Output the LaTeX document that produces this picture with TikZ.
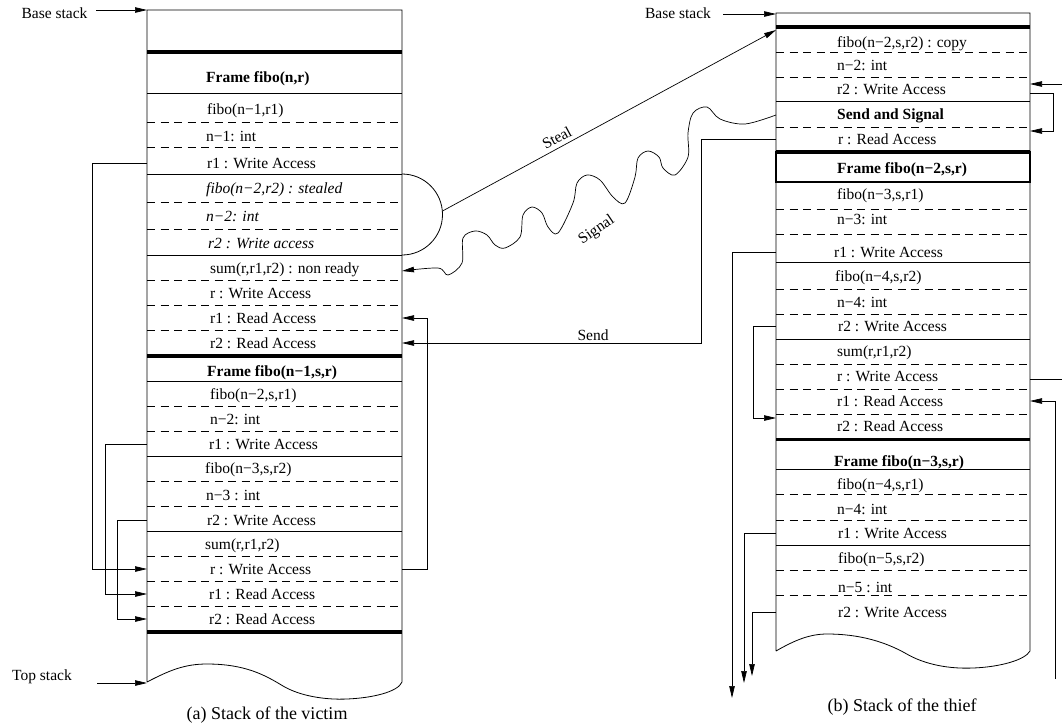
\documentclass[tikz,border=0pt]{standalone}
\usepackage{fontspec}
\setmainfont{Liberation Serif}
\usetikzlibrary{arrows.meta,calc}
\newcommand{\bodyfont}{\fontsize{15.5}{18}\selectfont}
\newcommand{\capfont}{\fontsize{18}{21}\selectfont}
\begin{document}
\begin{tikzpicture}[x=1pt,y=-1pt,
  stk/.style={line width=0.8pt},
  rulethick/.style={line width=3.6pt},
  rulesolid/.style={line width=0.8pt},
  ruledash/.style={line width=0.7pt, dash pattern=on 8pt off 5.5pt},
  cell/.style={anchor=west, inner sep=0pt, text height=10pt, text depth=0pt, font=\bodyfont},
  cellb/.style={cell, font=\bodyfont\bfseries},
  celli/.style={cell, font=\bodyfont\itshape},
  lbl/.style={inner sep=0pt, text height=10pt, text depth=0pt, font=\bodyfont},
  arr/.style={line width=0.7pt, -{Triangle[length=12pt,width=5.5pt]}},
  conn/.style={line width=0.7pt},
]
\useasboundingbox (0,0) rectangle (1062,724);

% ---------- stack edges ----------
\coordinate (aL) at (147,0);
\coordinate (aR) at (402,0);
\coordinate (bL) at (776,0);
\coordinate (bR) at (1030,0);

% ---------- left stack (victim) ----------
\draw[stk] (147,682) -- (147,10) -- (402,10) -- (402,682)
  .. controls (398,692) and (372,698) .. (347,699)
  .. controls (325,700) and (300,696) .. (283,686)
  .. controls (265,675) and (245,664) .. (207,664)
  .. controls (185,664) and (170,670) .. (147,682);
\foreach \y in {52,356,632} \draw[rulethick] (147,\y) -- (402,\y);
\foreach \y in {93,174,255,381,456.5,531} \draw[rulesolid] (147,\y) -- (402,\y);
\foreach \y in {122,147.5,202,229,280.5,305.5,330.5,406,431.5,481.5,506.5,556.5,581.5,606.5}
  \draw[ruledash] (147,\y) -- (402,\y);

\node[cellb] (aF1) at (206,77) {Frame fibo(n,r)};
\node[cell]  (a1)  at (207,109) {fibo(n−1,r1)};
\node[cell]  (a2)  at (206,136) {n−1: int};
\node[cell]  (a3)  at (207,163) {r1 : Write Access};
\node[celli] (a4)  at (206,188) {fibo(n−2,r2) : stealed};
\node[celli] (a5)  at (206,216) {n−2: int};
\node[celli] (a6)  at (208,243) {r2 : Write access};
\node[cell]  (a7)  at (210,268) {sum(r,r1,r2) : non ready};
\node[cell]  (a8)  at (210,293) {r : Write Access};
\node[cell]  (a9)  at (210,318) {r1 : Read Access};
\node[cell]  (a10) at (210,343) {r2 : Read Access};
\node[cellb] (aF2) at (207,371) {Frame fibo(n−1,s,r)};
\node[cell]  (a11) at (210,394) {fibo(n−2,s,r1)};
\node[cell]  (a12) at (210,419) {n−2: int};
\node[cell]  (a13) at (209,444) {r1 : Write Access};
\node[cell]  (a14) at (205,468) {fibo(n−3,s,r2)};
\node[cell]  (a15) at (206,495) {n−3 : int};
\node[cell]  (a16) at (207,520) {r2 : Write Access};
\node[cell]  (a17) at (205,544) {sum(r,r1,r2)};
\node[cell]  (a18) at (210,569) {r : Write Access};
\node[cell]  (a19) at (209,594) {r1 : Read Access};
\node[cell]  (a20) at (209,619) {r2 : Read Access};

% semicircle round the stolen frame
\draw[stk] (402,174) .. controls (424.4,174) and (442.5,192.1) .. (442.5,214.5)
  .. controls (442.5,236.9) and (424.4,255) .. (402,255);
\coordinate (stealfrom) at (442.5,211);

% ---------- right stack (thief) ----------
\draw[stk] (776,651) -- (776,13) -- (1030,13) -- (1030,651)
  .. controls (1025,660) and (1000,667) .. (973,668)
  .. controls (950,669) and (925,665) .. (905,653)
  .. controls (885,642) and (860,634) .. (827,634)
  .. controls (810,634) and (795,640) .. (776,651);
\foreach \y in {27,152,439.5} \draw[rulethick] (776,\y) -- (1030,\y);
\foreach \y in {101.5,182,262,339,469,545.7} \draw[rulesolid] (776,\y) -- (1030,\y);
\foreach \y in {52,77,127,209,234,289,314,364,389,414,494,520.7,570.7,595.7}
  \draw[ruledash] (776,\y) -- (1030,\y);
\draw[line width=1.05pt] (776,152) rectangle (1030,182);

\node[cell]  (b1)  at (837,42)  {fibo(n−2,s,r2) : copy};
\node[cell]  (b2)  at (837,65)  {n−2: int};
\node[cell]  (b3)  at (837,89)  {r2 : Write Access};
\node[cellb] (b4)  at (837,114) {Send and Signal};
\node[cell]  (b5)  at (838,139) {r : Read Access};
\node[cellb] (bF1) at (837,168) {Frame fibo(n−2,s,r)};
\node[cell]  (b6)  at (837,194) {fibo(n−3,s,r1)};
\node[cell]  (b7)  at (837,219) {n−3: int};
\node[cell]  (b8)  at (834,252) {r1 : Write Access};
\node[cell]  (b9)  at (835,276) {fibo(n−4,s,r2)};
\node[cell]  (b10) at (837,302) {n−4: int};
\node[cell]  (b11) at (838,326) {r2 : Write Access};
\node[cell]  (b12) at (837,351) {sum(r,r1,r2)};
\node[cell]  (b13) at (837,376) {r : Write Access};
\node[cell]  (b14) at (837,401) {r1 : Read Access};
\node[cell]  (b15) at (837,426) {r2 : Read Access};
\node[cellb] (bF2) at (834,461) {Frame fibo(n−3,s,r)};
\node[cell]  (b16) at (837,484) {fibo(n−4,s,r1)};
\node[cell]  (b17) at (837,509) {n−4: int};
\node[cell]  (b18) at (838,533) {r1 : Write Access};
\node[cell]  (b19) at (838,558) {fibo(n−5,s,r2)};
\node[cell]  (b20) at (838,587) {n−5 : int};
\node[cell]  (b21) at (838,612) {r2 : Write Access};

% ---------- labels ----------
\node[lbl] (lBaseA) at (54.5,13) {Base stack};
\node[lbl] (lBaseB) at (678,13) {Base stack};
\node[lbl] (lTop) at (42,675) {Top stack};
\node[lbl, rotate=28.5] (lSteal) at (557,138) {Steal};
\node[lbl, rotate=34] (lSignal) at (596,229) {Signal};
\node[lbl] (lSend) at (593,335) {Send};
\node[inner sep=0pt, text height=12pt, text depth=0pt, font=\capfont] (capA) at (267,713) {(a) Stack of the victim};
\node[inner sep=0pt, text height=12pt, text depth=0pt, font=\capfont] (capB) at (902,705) {(b) Stack of the thief};

% ---------- free ends ----------
\coordinate (baseAfrom) at (96,10);   \coordinate (baseAto) at (147,10);
\coordinate (baseBfrom) at (723,14);  \coordinate (baseBto) at (776,14);
\coordinate (topfrom) at (97,683);    \coordinate (topto) at (147,683);
\coordinate (stealto) at (776,30);
\coordinate (sigfrom) at (776,115);
\coordinate (sigto) at (402,271);
\coordinate (b3in) at (1062,84);
\coordinate (wout) at (1062,379);
\coordinate (e1) at (732,698);
\coordinate (e2) at (744,683);
\coordinate (e3) at (752,676);
\coordinate (e4) at (1055,679);

% ---------- connectors ----------
\draw[arr] (baseAfrom) -- (baseAto);
\draw[arr] (baseBfrom) -- (baseBto);
\draw[arr] (topfrom) -- (topto);

\draw[arr] (a3 -| aL) -- ++(-55,0) |- (a18 -| aL);
\draw[arr] (a13 -| aL) -- ++(-42,0) |- (a19 -| aL);
\draw[arr] (a16 -| aL) -- ++(-30,0) |- (a20 -| aL);
\draw[arr] (a18 -| aR) -- ++(25,0) |- (a9 -| aR);

\draw[arr] (stealfrom) -- (stealto);
\draw[arr] (b5 -| bL) -- ++(-75,0) |- (a10 -| aR);
\draw[arr] plot[smooth, tension=0.55] coordinates {(sigfrom) (745,124) (720,119) (707,107)
  (693,113) (688,133) (688,157) (675,175) (663,168) (659,157) (648,151) (638,158) (635,177)
  (625,203) (613,197) (600,180) (587,175) (577,183) (573,203) (558,233) (548,227) (542,213)
  (532,207) (523,215) (520,237) (505,248) (495,245) (487,235) (475,231) (463,238) (462,263)
  (448,275) (438,268) (sigto)};

\draw[arr] (b3in) -- (b3in -| bR);
\draw[arr] ($(b3 -| bR)+(0,4)$) -- ++(23,0) |- ($(b5 -| bR)+(0,-8)$);
\draw[arr] (b8 -| bL) -| (e1);
\draw[arr] (b11 -| bL) -- ++(-23,0) |- ($(b15 -| bL)+(0,-8)$);
\draw[conn] (wout -| bR) -- (wout);
\draw[arr] (e4) |- (b14 -| bR);
\draw[arr] (b18 -| bL) -| (e2);
\draw[arr] (b21 -| bL) -| (e3);
\end{tikzpicture}
\end{document}
